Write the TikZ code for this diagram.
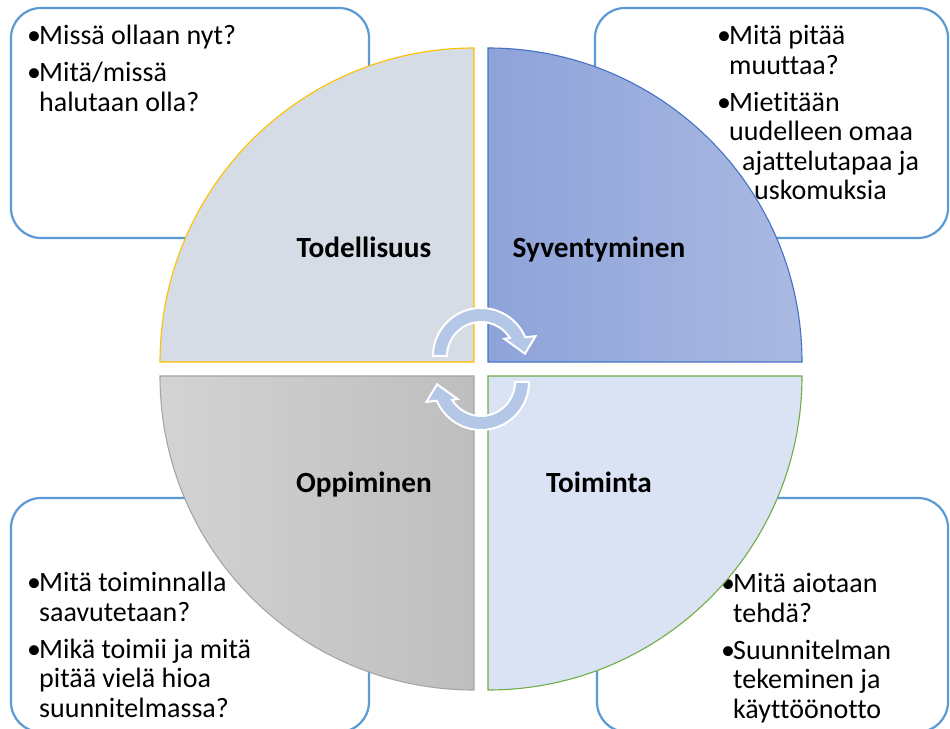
\documentclass[tikz,border=0pt]{standalone}
\usepackage{fontspec}
\setmainfont{Carlito}[Ligatures=NoCommon]
\usepackage{tikz}

\definecolor{boxblue}{HTML}{5B9BD5}
\definecolor{quadA}{HTML}{D6DCE5}
\definecolor{edgeA}{HTML}{FFC000}
\definecolor{quadBl}{HTML}{8EA3DA}
\definecolor{quadBr}{HTML}{AAB9E1}
\definecolor{edgeB}{HTML}{4472C4}
\definecolor{quadC}{HTML}{DAE3F3}
\definecolor{edgeC}{HTML}{70AD47}
\definecolor{quadDl}{HTML}{D3D3D3}
\definecolor{quadDr}{HTML}{BEBEBE}
\definecolor{edgeD}{HTML}{A5A5A5}
\definecolor{turnblue}{HTML}{B4C7E7}

\newcommand{\bul}{\makebox[12pt][l]{\textbullet}}
\newcommand{\ind}[1][12pt]{\hspace*{#1}}

\begin{document}
\begin{tikzpicture}[x=1pt, y=1pt,
  box/.style = {draw=boxblue, line width=2.2pt, rounded corners=30pt},
  quad/.style = {line width=1.1pt},
  lab/.style = {anchor=base, font=\fontsize{29.3}{30}\selectfont\bfseries},
  txt/.style = {anchor=base west, inner sep=0pt, font=\fontsize{28}{29.5}\selectfont},
  turn/.style = {fill=turnblue, draw=white, line width=2pt, line join=miter}]
        \fill[white] (0,0) rectangle (950,728);
        \useasboundingbox (0,0) rectangle (950,728);
        % question boxes
        \draw[box] (11,720) rectangle (369,490);
        \draw[box] (595,720) rectangle (948,490);
        \draw[box] (11,230) rectangle (369,-4);
        \draw[box] (597,230) rectangle (948,-4);
        \node[txt] (qtl) at (27,683) {\parbox[t]{330pt}{\raggedright
            \bul Miss\"a ollaan nyt?\\[7.5pt]
            \bul Mit\"a/miss\"a\\ \ind halutaan olla?}};
        \node[txt] (qtr) at (717,683) {\parbox[t]{230pt}{\raggedright
            \bul Mit\"a pit\"a\"a\\ \ind muuttaa?\\[7.5pt]
            \bul Mietit\"a\"an\\ \ind uudelleen omaa\\ \ind[25pt]ajattelutapaa ja\\ \ind[37pt]uskomuksia}};
        \node[txt] (qbl) at (27,136) {\parbox[t]{330pt}{\raggedright
            \bul Mit\"a toiminnalla\\ \ind saavutetaan?\\[7.5pt]
            \bul Mik\"a toimii ja mit\"a\\ \ind pit\"a\"a viel\"a hioa\\ \ind suunnitelmassa?}};
        \node[txt] (qbr) at (721,135) {\parbox[t]{230pt}{\raggedright
            \bul Mit\"a aiotaan\\ \ind tehd\"a?\\[7.5pt]
            \bul Suunnitelman\\ \ind tekeminen ja\\ \ind k\"aytt\"o\"onotto}};
        % quarters of the circle
        \path[quad, fill=quadA, draw=edgeA] (474,366) -- (160,366)
            arc[start angle=180, end angle=90, radius=314] -- cycle;
        \path[quad, left color=quadBl, right color=quadBr, draw=edgeB] (488,366) -- (488,680)
            arc[start angle=90, end angle=0, radius=314] -- cycle;
        \path[quad, fill=quadC, draw=edgeC] (488,352) -- (802,352)
            arc[start angle=0, end angle=-90, radius=314] -- cycle;
        \path[quad, left color=quadDl, right color=quadDr, draw=edgeD] (474,352) -- (160,352)
            arc[start angle=180, end angle=270, radius=314] -- cycle;
        \node[lab] (tod) at (364,470) {Todellisuus};
        \node[lab] (syv) at (599,470) {Syventyminen};
        \node[lab] (opp) at (364,235) {Oppiminen};
        \node[lab] (toi) at (599,235) {Toiminta};
        % the two turning arrows
        \foreach \cy/\rot in {372/0, 346/180} {
          \draw[turn, shift={(481,\cy)}, rotate=\rot] (180:48)
              arc[start angle=180, end angle=23, radius=48] -- (20:58) -- (3:44) -- (36:29)
              -- (32:34) arc[start angle=32, end angle=180, radius=34] -- cycle;
        }
      \end{tikzpicture}
\end{document}
